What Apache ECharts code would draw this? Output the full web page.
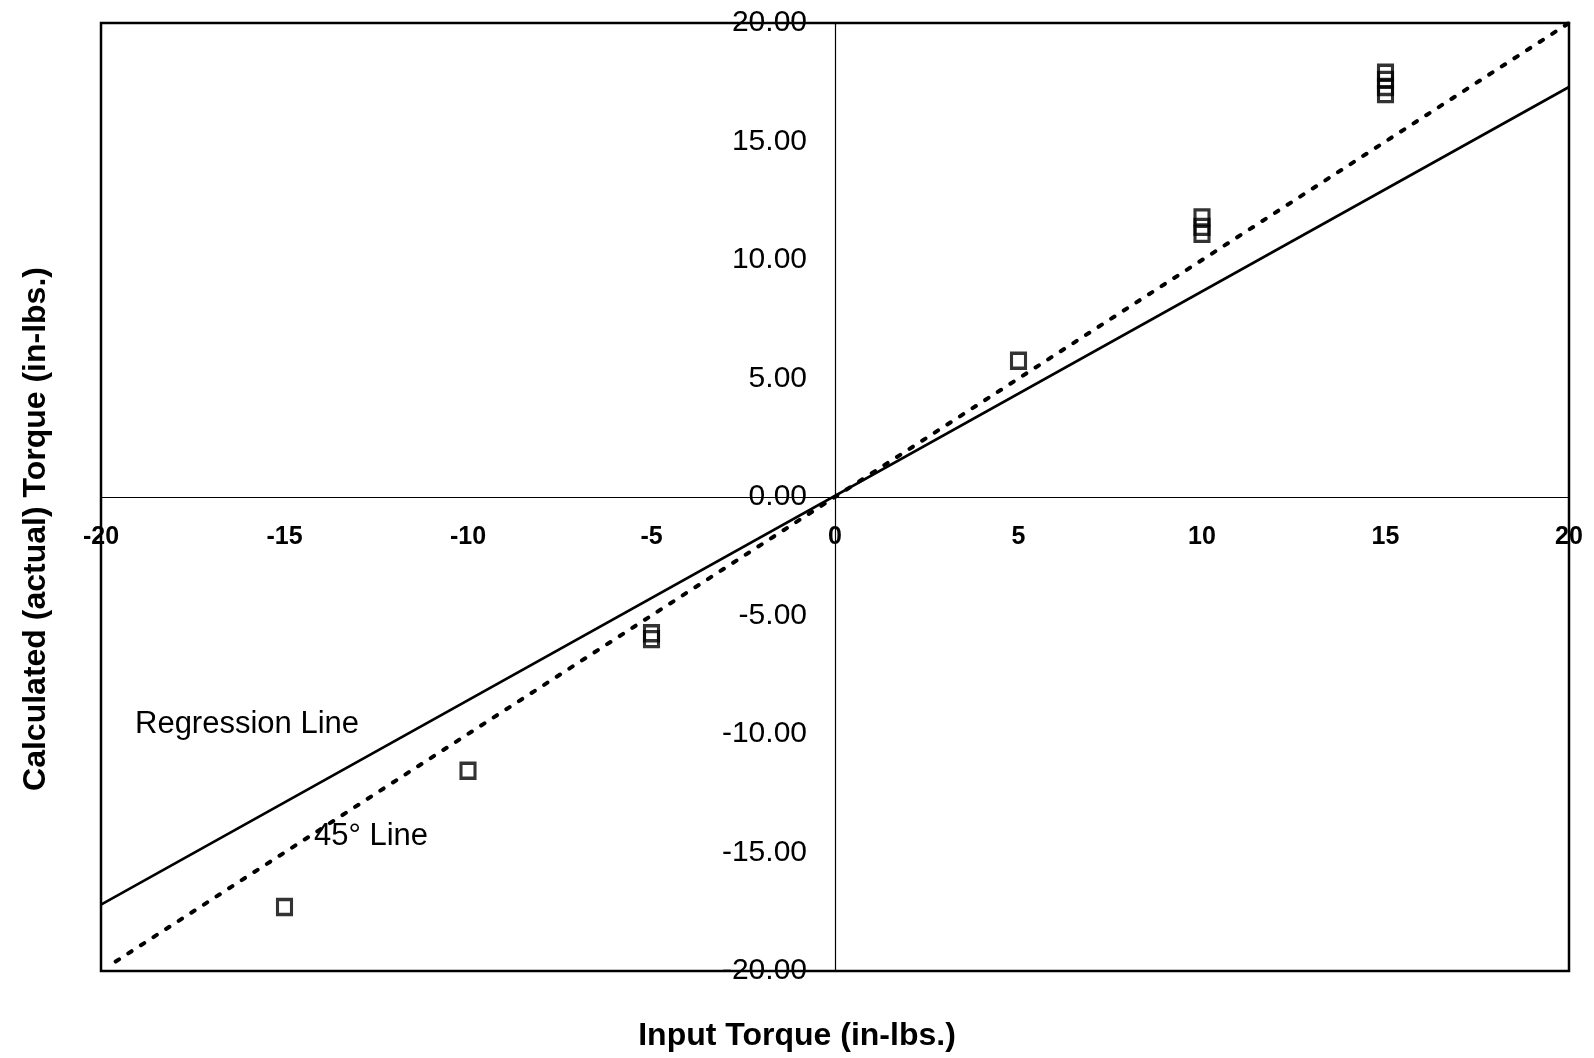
<!DOCTYPE html>
<html>
<head>
<meta charset="utf-8">
<title>Calculated vs Input Torque</title>
<script src="https://cdn.jsdelivr.net/npm/echarts@6/dist/echarts.min.js"></script>
<style>
  html, body { margin: 0; padding: 0; background: #fff; }
  #chart { width: 1594px; height: 1058px; }
</style>
</head>
<body>
<div id="chart"></div>
<script>
// measured points (input torque, calculated torque)
const inputTorque = [15, 15, 15, 15, 10, 10, 10, 5, -5, -5, -10, -15];
const calcTorque = [17.9, 17.6, 17.3, 17.0, 11.8, 11.4, 11.1, 5.75, -5.75, -6.0, -11.55, -17.3];

// regression fit and 45 degree reference, end points
const regressionX = [-20, 20];
const regressionY = [-17.2, 17.3];
const diagonalX = [-19.6, 20];
const diagonalY = [-19.6, 20];

const xTicks = { min: -20, max: 20, step: 5 };
const yTicks = { min: -20, max: 20, step: 5 };

const zip = (a, b) => a.map((v, i) => [v, b[i]]);

// grid box, the axes cross in its middle (0,0)
const grid = { left: 101, right: 25, top: 23, bottom: 87 };
const gridW = 1594 - grid.left - grid.right;
const gridH = 1058 - grid.top - grid.bottom;

const font = '"Liberation Sans", Arial, sans-serif';

const chart = echarts.init(document.getElementById('chart'));

chart.setOption({
    backgroundColor: '#fff',
    animation: false,
    grid: Object.assign({
        show: true, borderColor: '#000', borderWidth: 2.5,
        backgroundColor: 'transparent'
    }, grid),
    xAxis: {
        type: 'value',
        position: 'bottom',
        offset: -gridH / 2,
        min: xTicks.min, max: xTicks.max, interval: xTicks.step,
        axisLine: { onZero: false, lineStyle: { color: '#000', width: 1.2 } },
        axisTick: { show: false },
        splitLine: { show: false },
        axisLabel: {
            color: '#000', fontFamily: font,
            fontSize: 25, fontWeight: 'bold', margin: 28
        }
    },
    yAxis: {
        type: 'value',
        position: 'left',
        offset: -gridW / 2,
        min: yTicks.min, max: yTicks.max, interval: yTicks.step,
        axisLine: { onZero: false, lineStyle: { color: '#000', width: 1.2 } },
        axisTick: { show: false },
        splitLine: { show: false },
        axisLabel: {
            color: '#000', fontFamily: font,
            fontSize: 30, margin: 28,
            formatter: v => v.toFixed(2)
        }
    },
    series: [
        {
            type: 'line',
            data: zip(regressionX, regressionY),
            symbol: 'none',
            lineStyle: { color: '#000', width: 2.6 },
            z: 3
        },
        {
            type: 'line',
            data: zip(diagonalX, diagonalY),
            symbol: 'none',
            lineStyle: { color: '#000', width: 4, type: [4, 11], cap: 'round' },
            z: 3
        },
        {
            type: 'scatter',
            data: zip(inputTorque, calcTorque),
            symbol: 'rect',
            symbolSize: [14, 15],
            itemStyle: { color: 'transparent', borderColor: '#000', borderWidth: 3.2 },
            z: 4
        }
    ],
    graphic: [
        {
            type: 'text', left: 135, top: 709,
            style: { text: 'Regression Line', fill: '#000', font: '31px ' + font }
        },
        {
            type: 'text', left: 314, top: 821,
            style: { text: '45° Line', fill: '#000', font: '31px ' + font }
        },
        {
            type: 'text', left: 'center', top: 1020,
            style: { text: 'Input Torque (in-lbs.)', fill: '#000', font: 'bold 32px ' + font }
        },
        {
            type: 'text', rotation: Math.PI / 2,
            style: {
                text: 'Calculated (actual) Torque (in-lbs.)', fill: '#000',
                font: 'bold 32px ' + font,
                align: 'center', verticalAlign: 'middle'
            },
            left: 20, top: 'middle'
        }
    ]
});
</script>
</body>
</html>
